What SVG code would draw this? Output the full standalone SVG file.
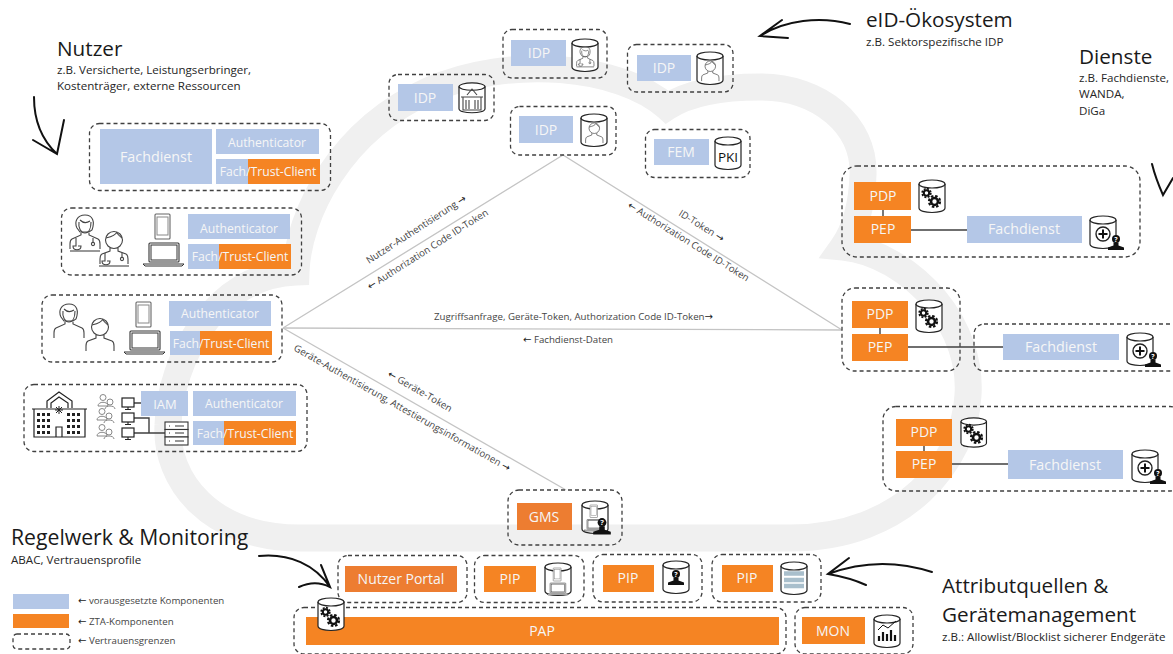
<svg xmlns="http://www.w3.org/2000/svg" xmlns:xlink="http://www.w3.org/1999/xlink" width="1173" height="654" viewBox="0 0 1173 654">
<style>
text{font-family:"Open Sans","Noto Sans","Liberation Sans",sans-serif}
.b{fill:#b4c7e7}
.o{fill:#f58423}
.o2{fill:#ed7d31}
.d{fill:none;stroke:#404040;stroke-width:1.3;stroke-dasharray:4 3}
.t{fill:#f6f6f6;text-anchor:middle}
.h{fill:#1a1a1a;font-size:20.7px}
.s{fill:#262626;font-size:11.6px}
.l{fill:#444;font-size:9.7px}
.r{font-family:"DejaVu Sans",sans-serif;fill:#222;font-size:10px}
.c{fill:none;stroke:#c4c4c4;stroke-width:1.3}
.k{fill:none;stroke:#404040;stroke-width:1.4}
.a{fill:none;stroke:#111;stroke-width:2;stroke-linecap:round}
.i{fill:none;stroke:#444;stroke-width:1.1}
.g{fill:none;stroke:#888;stroke-width:1}
.u{font-size:12.2px}
.f{font-size:14.3px}
.n{font-size:14px}
</style>
<defs>
<g id="cyl"><path d="M1 5V29C1 35 27 35 27 29V5" fill="#fff" stroke="#222" stroke-width="1.2"/><ellipse cx="14" cy="5" rx="13" ry="4" fill="#fff" stroke="#222" stroke-width="1.2"/></g>
<g id="gear"><circle r="3" fill="none" stroke="#111" stroke-width="2.2"/><circle r="4.8" fill="none" stroke="#111" stroke-width="1.9" stroke-dasharray="2.2 1.57"/></g>
<g id="gears"><use href="#gear" transform="translate(8.500,13) scale(.9)"/><use href="#gear" transform="translate(16.500,21.500) scale(1.15)"/></g>
<g id="bust"><circle cx="0" cy="-5" r="4" fill="#111"/><text y="-2.500" font-size="7" text-anchor="middle" fill="#fff" style="font-weight:700">?</text><path d="M-2.500-1.500V1.500L-8 3.500V6H8V3.500L2.500 1.500V-1.500Z" fill="#111"/></g>
<g id="plus"><use href="#cyl"/><circle cx="14" cy="19" r="7" fill="#fff" stroke="#222" stroke-width="1.4"/><path d="M9.500 19H18.500M14 14.500V23.500" stroke="#111" stroke-width="2"/><use href="#bust" transform="translate(27,29)"/></g>
<g id="woman"><path d="M8 14C5 8 8 1 16 1S26 8 23 16L20 18H11Z M11 6C14 9 18 9 21 7" class="i"/><path d="M10 8C9 14 12 19 16 19S22 14 22 8" class="i"/><path d="M12 19V21L3 25Q1 26 1 30V35M20 19V21L29 25Q31 26 31 30V35" class="i"/></g>
<g id="man"><circle cx="15" cy="10" r="8.500" class="i"/><path d="M7 8C11 7 16 6 18 2M18 3C20 6 22 7 23 8" class="i"/><path d="M11 18V21L3 24Q1 25 1 29V34M19 18V21L27 24Q29 25 29 29V34" class="i"/></g>
<g id="steth"><path d="M7 23V31H4C4 36 12 36 12 31H9M24 23V27" class="i"/><circle cx="24" cy="29" r="1.600" class="i"/><path d="M1 36H31" class="i"/></g>
<g id="dev"><rect x="12" y="0" width="15" height="25" rx="1" fill="#fff" stroke="#666" stroke-width="1.100"/><rect x="14" y="3" width="11" height="18" class="g"/><rect x="6" y="29" width="30" height="19" rx="1" fill="#fff" stroke="#333" stroke-width="1.100"/><rect x="8" y="31" width="26" height="15" fill="none" stroke="#333" stroke-width="1"/><path d="M0 50H41L39 52H2Z" fill="#fff" stroke="#333" stroke-width="1"/></g>
<g id="mon"><rect x="0" y="0" width="12" height="9" fill="#fff" stroke="#222" stroke-width="1.200"/><path d="M6 9V11M3 11.500H9" stroke="#222" stroke-width="1.100"/></g>
<g id="ppl"><circle cx="5" cy="3.500" r="3" class="g"/><path d="M0 12C0 7 10 7 10 12Z" class="g"/><circle cx="12" cy="8" r="3" class="g"/><path d="M7 15C7 11 17 11 17 15" class="g"/></g>
</defs>

<g id="cloud"><path d="M296 272C298 215 340 130 430 90C510 55 620 65 667 107C690 92 725 87 760 87C820 87 865 125 863 175C862 205 855 230 843 247C875 250 910 270 935 300C960 330 970 365 968 395C965 460 905 538 790 538H300C210 538 165 480 168 425C170 360 215 275 296 272Z" fill="none" stroke="#f0f0f0" stroke-width="27" stroke-miterlimit="10" stroke-linejoin="miter"/></g>

<g id="connectors">
<path class="c" d="M283 328L563 155L842 330"/>
<path class="c" d="M283 328L842 330"/>
<path class="c" d="M283 328L566 490"/>
<path class="k" d="M883 210V216M908 230H967"/>
<path class="k" d="M880 328V334M908 347H1003"/>
<path class="k" d="M924 446V451M952 464H1008"/>
</g>

<g id="labels">
<text class="l" transform="translate(369,264) rotate(-33)">Nutzer-Authentisierung <tspan class="r">→</tspan></text>
<text class="l" transform="translate(370,290) rotate(-32.500)"><tspan class="r">←</tspan> Authorization Code ID-Token</text>
<text class="l" transform="translate(678,215) rotate(32)">ID-Token <tspan class="r">→</tspan></text>
<text class="l" transform="translate(627,207) rotate(32)"><tspan class="r">←</tspan> Authorization Code ID-Token</text>
<text class="l" x="434" y="320">Zugriffsanfrage, Geräte-Token, Authorization Code ID-Token<tspan class="r">→</tspan></text>
<text class="l" x="523" y="343"><tspan class="r">←</tspan> Fachdienst-Daten</text>
<text class="l" transform="translate(293,350) rotate(29.500)">Geräte-Authentisierung, Attestierungsinformationen <tspan class="r">→</tspan></text>
<text class="l" transform="translate(387,376) rotate(30)"><tspan class="r">←</tspan> Geräte-Token</text>
</g>

<g id="heading-nutzer">
<text class="h" x="57" y="56">Nutzer</text>
<text class="s" x="57" y="74">z.B. Versicherte, Leistungserbringer,</text>
<text class="s" x="57" y="90">Kostenträger, externe Ressourcen</text>
<path class="a" d="M34 97C34 120 42 140 57 154M33 140L57 154L64 120"/>
</g>
<g id="heading-eid">
<text class="h" x="866" y="27">eID-Ökosystem</text>
<text class="s" x="866" y="46">z.B. Sektorspezifische IDP</text>
<path class="a" d="M850 24C820 16 785 20 760 36M782 20L760 36L788 38"/>
</g>
<g id="heading-dienste">
<text class="h" x="1079" y="64">Dienste</text>
<text class="s" x="1079" y="82">z.B. Fachdienste,</text>
<text class="s" x="1079" y="98">WANDA,</text>
<text class="s" x="1079" y="115">DiGa</text>
<path class="a" d="M1152 164C1155 176 1159 186 1163 195L1173 178"/>
</g>
<g id="heading-regelwerk">
<text class="h" x="11" y="545" style="font-size:21.2px">Regelwerk &amp; Monitoring</text>
<text class="s" x="11" y="564">ABAC, Vertrauensprofile</text>
<path class="a" d="M259 556C290 553 315 565 330 587M321 565L330 587C320 582 310 582 299 587"/>
</g>
<g id="heading-attribut">
<text class="h" x="942" y="593">Attributquellen &amp;</text>
<text class="h" x="942" y="622">Gerätemanagement</text>
<text class="s" x="942" y="641">z.B.: Allowlist/Blocklist sicherer Endgeräte</text>
<path class="a" d="M932 572C895 560 860 562 828 574M849 558L828 574C840 576 855 580 866 585"/>
</g>

<g id="legend">
<rect class="b" x="13" y="594" width="56" height="15"/>
<rect class="o" x="13" y="614" width="56" height="14"/>
<rect class="d" x="13" y="634" width="57" height="15" rx="4"/>
<text class="l" x="78" y="604"><tspan class="r">←</tspan> vorausgesetzte Komponenten</text>
<text class="l" x="78" y="625"><tspan class="r">←</tspan> ZTA-Komponenten</text>
<text class="l" x="78" y="644"><tspan class="r">←</tspan> Vertrauensgrenzen</text>
</g>

<g id="user-fachdienst">
<rect class="d" x="89.500" y="123.500" width="241" height="67" rx="10"/>
<rect class="b" x="100" y="129" width="112" height="55"/>
<text class="t f" x="156" y="162">Fachdienst</text>
<rect class="b" x="216" y="129" width="103" height="25"/>
<text class="t u" x="267" y="147">Authenticator</text>
<rect class="b" x="216" y="159" width="32" height="25"/>
<rect class="o" x="248" y="159" width="72" height="25"/>
<text class="t u" x="268" y="176">Fach/Trust-Client</text>
</g>
<g id="user-aerzte">
<rect class="d" x="61.500" y="208" width="240" height="67" rx="10"/>
<use href="#woman" transform="translate(69,214)"/><use href="#steth" transform="translate(69,215)"/>
<use href="#man" transform="translate(99,230)"/><use href="#steth" transform="translate(98,230)"/>
<use href="#dev" transform="translate(143,214)"/>
<rect class="b" x="188" y="214" width="102" height="25"/>
<text class="t u" x="239" y="233">Authenticator</text>
<rect class="b" x="188" y="244" width="31" height="25"/>
<rect class="o" x="219" y="244" width="72" height="25"/>
<text class="t u" x="240" y="261">Fach/Trust-Client</text>
</g>
<g id="user-versicherte">
<rect class="d" x="42" y="295" width="240" height="67" rx="10"/>
<use href="#woman" transform="translate(53,303)"/>
<use href="#man" transform="translate(85,317)"/>
<use href="#dev" transform="translate(124,302)"/>
<rect class="b" x="169" y="301" width="102" height="25"/>
<text class="t u" x="220" y="318">Authenticator</text>
<rect class="b" x="170" y="331" width="31" height="24"/>
<rect class="o" x="200" y="331" width="72" height="24"/>
<text class="t u" x="221" y="348">Fach/Trust-Client</text>
</g>
<g id="user-klinik">
<rect class="d" x="24" y="384.500" width="283" height="67" rx="10"/>
<path d="M32 409H87M34 409V437H85V409M47 408V401L59 392L72 401V408M51 408V403L59 397L68 403V408M56 437V427H62V437" fill="none" stroke="#222" stroke-width="1.200"/>
<g fill="#222"><rect x="37" y="413" width="3" height="3"/><rect x="42" y="413" width="3" height="3"/><rect x="47" y="413" width="3" height="3"/><rect x="37" y="419" width="3" height="3"/><rect x="42" y="419" width="3" height="3"/><rect x="47" y="419" width="3" height="3"/><rect x="37" y="425" width="3" height="3"/><rect x="42" y="425" width="3" height="3"/><rect x="47" y="425" width="3" height="3"/><rect x="37" y="431" width="3" height="3"/><rect x="42" y="431" width="3" height="3"/><rect x="47" y="431" width="3" height="3"/><rect x="67" y="413" width="3" height="3"/><rect x="72" y="413" width="3" height="3"/><rect x="77" y="413" width="3" height="3"/><rect x="67" y="419" width="3" height="3"/><rect x="72" y="419" width="3" height="3"/><rect x="77" y="419" width="3" height="3"/><rect x="67" y="425" width="3" height="3"/><rect x="72" y="425" width="3" height="3"/><rect x="77" y="425" width="3" height="3"/><rect x="67" y="431" width="3" height="3"/><rect x="72" y="431" width="3" height="3"/><rect x="77" y="431" width="3" height="3"/></g>
<path d="M59 406V414M55 410H63M56 407L62 413M62 407L56 413" stroke="#222" stroke-width="1"/>
<use href="#ppl" transform="translate(98,394)"/><use href="#ppl" transform="translate(97,408)"/><use href="#ppl" transform="translate(97,424)"/>
<path class="k" d="M134 403H141M134 418H149V433H165M134 433H149" stroke="#222"/>
<use href="#mon" transform="translate(122,398)"/><use href="#mon" transform="translate(122,413)"/><use href="#mon" transform="translate(122,428)"/>
<g fill="#fff" stroke="#333" stroke-width="1.100"><rect x="165" y="422" width="23" height="7.500"/><rect x="165" y="429.500" width="23" height="7.500"/><rect x="165" y="437" width="23" height="8"/></g>
<path d="M169 426H170M175 426H184M169 433H170M175 433H184M169 441H170M175 441H184" stroke="#333" stroke-width="1.100"/>
<rect class="b" x="141" y="391" width="47" height="25"/>
<text class="t n" x="165" y="409" style="font-size:13px">IAM</text>
<rect class="b" x="193" y="391" width="103" height="25"/>
<text class="t u" x="244" y="408">Authenticator</text>
<rect class="b" x="193" y="421" width="31" height="24"/>
<rect class="o" x="224" y="421" width="72" height="24"/>
<text class="t u" x="245" y="438">Fach/Trust-Client</text>
</g>

<g id="idp-top">
<rect class="d" x="503" y="29.500" width="104" height="48.500" rx="9"/>
<rect class="b" x="511" y="40" width="55" height="26"/>
<text class="t n" x="539" y="58">IDP</text>
<use href="#cyl" transform="translate(571,38)"/>
<use href="#woman" transform="translate(576,46) scale(.58)"/><use href="#steth" transform="translate(576,46) scale(.58)"/>
</g>
<g id="idp-right">
<rect class="d" x="627.500" y="44.500" width="105.500" height="47.500" rx="9"/>
<rect class="b" x="637" y="55" width="54" height="26"/>
<text class="t n" x="664" y="73">IDP</text>
<use href="#cyl" transform="translate(696,51)"/>
<use href="#man" transform="translate(701,60) scale(.62)"/>
</g>
<g id="idp-left">
<rect class="d" x="389" y="74.500" width="105" height="46" rx="9"/>
<rect class="b" x="398" y="84" width="55" height="27"/>
<text class="t n" x="425" y="103">IDP</text>
<use href="#cyl" transform="translate(458,82) scale(1,.92)"/>
<path class="i" d="M461 97H483M463 97V110H481V97M467 95L472 89L477 95M466 100V109M469 100V109M475 100V109M478 100V109"/>
</g>
<g id="idp-center">
<rect class="d" x="510.500" y="106.500" width="105.500" height="48.500" rx="9"/>
<rect class="b" x="519" y="116" width="54" height="27"/>
<text class="t n" x="546" y="135">IDP</text>
<use href="#cyl" transform="translate(580,113)"/>
<use href="#man" transform="translate(585,122) scale(.62)"/>
</g>
<g id="fem">
<rect class="d" x="645.500" y="129.500" width="104.500" height="48" rx="9"/>
<rect class="b" x="654" y="139" width="55" height="26"/>
<text class="t n" x="681" y="157">FEM</text>
<use href="#cyl" transform="translate(714,136)"/>
<text x="728" y="162" font-size="13.500" text-anchor="middle" fill="#111">PKI</text>
</g>

<g id="dienst-1">
<rect class="d" x="842" y="166" width="298" height="91" rx="15"/>
<rect class="o" x="854" y="182" width="57" height="28"/>
<text class="t n" x="883" y="201">PDP</text>
<rect class="o" x="854" y="216" width="57" height="27"/>
<text class="t n" x="883" y="234">PEP</text>
<use href="#cyl" transform="translate(918,179)"/><use href="#gears" transform="translate(918,180)"/>
<rect class="b" x="967" y="216" width="115" height="27"/>
<text class="t f" x="1024" y="234">Fachdienst</text>
<use href="#plus" transform="translate(1089,215)"/>
</g>
<g id="dienst-2">
<rect class="d" x="842" y="288" width="118" height="83" rx="13"/>
<rect class="o" x="852" y="301" width="56" height="27"/>
<text class="t n" x="880" y="319">PDP</text>
<rect class="o" x="852" y="334" width="56" height="27"/>
<text class="t n" x="880" y="352">PEP</text>
<use href="#cyl" transform="translate(915,299)"/><use href="#gears" transform="translate(915,300)"/>
</g>
<g id="dienst-2-fachdienst">
<rect class="d" x="974" y="324" width="210" height="47" rx="10"/>
<rect class="b" x="1003" y="334" width="116" height="26"/>
<text class="t f" x="1061" y="352">Fachdienst</text>
<use href="#plus" transform="translate(1126,332)"/>
</g>
<g id="dienst-3">
<rect class="d" x="883" y="406.500" width="300" height="84.500" rx="13"/>
<rect class="o" x="896" y="419" width="56" height="27"/>
<text class="t n" x="924" y="437">PDP</text>
<rect class="o" x="896" y="451" width="56" height="27"/>
<text class="t n" x="924" y="469">PEP</text>
<use href="#cyl" transform="translate(960,417) scale(.98,.9)"/><use href="#gears" transform="translate(960,416)"/>
<rect class="b" x="1008" y="450" width="115" height="29"/>
<text class="t f" x="1065" y="470">Fachdienst</text>
<use href="#plus" transform="translate(1131,449)"/>
</g>

<g id="gms">
<rect class="d" x="508" y="490" width="114" height="55" rx="11"/>
<rect class="o2" x="517" y="503" width="55" height="27"/>
<text class="t n" x="544" y="522">GMS</text>
<use href="#cyl" transform="translate(581,500)"/>
<use href="#dev" transform="translate(584,505) scale(.5)"/>
<use href="#bust" transform="translate(602,528) scale(1.1)"/>
</g>
<g id="nutzer-portal">
<rect class="d" x="338" y="555.500" width="129" height="47" rx="10"/>
<rect class="o2" x="345" y="566" width="112" height="26"/>
<text class="t n" x="401" y="584">Nutzer Portal</text>
</g>
<g id="pip-1">
<rect class="d" x="474.500" y="555.500" width="109.500" height="47" rx="10"/>
<rect class="o" x="484" y="566" width="52" height="26"/>
<text class="t n" x="510" y="584">PIP</text>
<use href="#cyl" transform="translate(544,562)"/>
<use href="#dev" transform="translate(547,568) scale(.52)"/>
</g>
<g id="pip-2">
<rect class="d" x="593" y="554.500" width="109" height="47.500" rx="10"/>
<rect class="o" x="603" y="565" width="51" height="27"/>
<text class="t n" x="628" y="583">PIP</text>
<use href="#cyl" transform="translate(662,560)"/>
<use href="#bust" transform="translate(676,579)"/>
</g>
<g id="pip-3">
<rect class="d" x="712" y="554.500" width="109" height="47.500" rx="10"/>
<rect class="o" x="722" y="565" width="51" height="27"/>
<text class="t n" x="747" y="583">PIP</text>
<use href="#cyl" transform="translate(780,561)"/>
<path d="M784 573.500H804M784 580H804M784 586H804" stroke="#a9bfcc" stroke-width="4.500"/>
</g>
<g id="pap">
<rect class="d" x="294" y="607.500" width="492" height="46.500" rx="10"/>
<rect class="o" x="306" y="617" width="473" height="28"/>
<text class="t n" x="542" y="636">PAP</text>
<use href="#cyl" transform="translate(317,597)"/><use href="#gears" transform="translate(317,599)"/>
</g>
<g id="mon-node">
<rect class="d" x="795" y="607.500" width="118" height="46.500" rx="10"/>
<rect class="o" x="802" y="617" width="63" height="27"/>
<text class="t n" x="833" y="636">MON</text>
<use href="#cyl" transform="translate(873,614)"/>
<path d="M879 641V636M883 641V632M887 641V634M891 641V630M895 641V635" stroke="#111" stroke-width="2.200"/>
<path d="M878 630L883 625L888 628L896 621" fill="none" stroke="#111" stroke-width="1"/>
</g>
</svg>
